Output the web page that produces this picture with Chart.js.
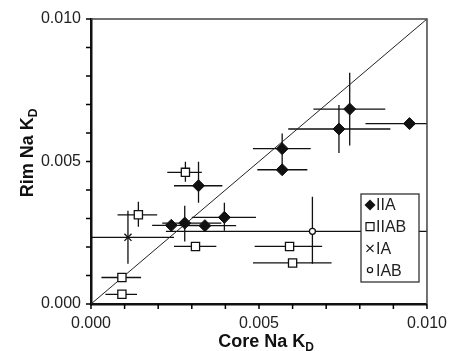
<!doctype html>
<html lang="en">
  <head>
    <meta charset="utf-8">
    <title>Rim vs Core Na KD</title>
    <style>
      * { margin: 0; padding: 0; }
      body { background: #fff; }
      .chartBox { width: 452px; height: 351px; }
    </style>
  </head>
  <body>
    <div class="chartBox">
      <canvas id="myChart"></canvas>
    </div>
    <script src="https://cdn.jsdelivr.net/npm/chart.js/dist/chart.umd.min.js"></script>
    <script>
    // data (core KD on x, rim KD on y, error bar ends)
    const iiaX   = [0.00770, 0.00738, 0.00948, 0.00569, 0.00569, 0.00320, 0.00239, 0.00279, 0.00339, 0.00397];
    const iiaY   = [0.00684, 0.00614, 0.00633, 0.00545, 0.00471, 0.00415, 0.00276, 0.00284, 0.00275, 0.00304];
    const iiaXLo = [0.00662, 0.00587, 0.00817, 0.00482, 0.00495, 0.00247, 0.00182, 0.00212, 0.00285, 0.00300];
    const iiaXHi = [0.00876, 0.00891, 0.01100, 0.00654, 0.00644, 0.00391, 0.00320, 0.00388, 0.00432, 0.00491];
    const iiaYLo = [0.00556, 0.00530, 0.00633, 0.00471, 0.00471, 0.00355, 0.00276, 0.00219, 0.00275, 0.00257];
    const iiaYHi = [0.00811, 0.00698, 0.00633, 0.00598, 0.00471, 0.00499, 0.00276, 0.00345, 0.00275, 0.00355];

    const iiabX   = [0.00281, 0.00141, 0.00311, 0.00092, 0.00092, 0.00591, 0.00600];
    const iiabY   = [0.00462, 0.00313, 0.00202, 0.00093, 0.00034, 0.00202, 0.00144];
    const iiabXLo = [0.00227, 0.00079, 0.00247, 0.00031, 0.00043, 0.00487, 0.00482];
    const iiabXHi = [0.00330, 0.00197, 0.00373, 0.00149, 0.00137, 0.00688, 0.00716];
    const iiabYLo = [0.00429, 0.00271, 0.00202, 0.00093, 0.00034, 0.00202, 0.00144];
    const iiabYHi = [0.00499, 0.00359, 0.00202, 0.00093, 0.00034, 0.00202, 0.00144];

    const iaX   = [0.00110];
    const iaY   = [0.00234];
    const iaXLo = [-0.00020];
    const iaXHi = [0.00247];
    const iaYLo = [0.00141];
    const iaYHi = [0.00327];

    const iabX   = [0.00659];
    const iabY   = [0.00255];
    const iabXLo = [0.00223];
    const iabXHi = [0.01050];
    const iabYLo = [0.00141];
    const iabYHi = [0.00376];

    const oneToOne = [0, 0.010];
    const minorTicks = [0, 0.001, 0.002, 0.003, 0.004, 0.005, 0.006, 0.007, 0.008, 0.009, 0.010];
    const labelTicks = [0, 0.005, 0.010];
    const groupNames = ['IIA', 'IIAB', 'IA', 'IAB'];

    const pts = (xs, ys) => xs.map((x, i) => ({x: x, y: ys[i]}));
    const ink = '#111';
    const fontFam = '"Liberation Sans", Arial, sans-serif';

    const errGroups = [
      [iiaX, iiaY, iiaXLo, iiaXHi, iiaYLo, iiaYHi],
      [iiabX, iiabY, iiabXLo, iiabXHi, iiabYLo, iiabYHi],
      [iaX, iaY, iaXLo, iaXHi, iaYLo, iaYHi],
      [iabX, iabY, iabXLo, iabXHi, iabYLo, iabYHi]
    ];

    // error bars, drawn under the markers
    const errorBars = {
      id: 'errorBars',
      beforeDatasetsDraw(chart) {
        const {ctx, chartArea, scales: {x, y}} = chart;
        ctx.save();
        ctx.beginPath();
        ctx.rect(chartArea.left, chartArea.top, chartArea.width, chartArea.height);
        ctx.clip();
        ctx.strokeStyle = ink;
        ctx.lineWidth = 1.3;
        errGroups.forEach(g => {
          const [xs, ys, xl, xh, yl, yh] = g;
          xs.forEach((v, i) => {
            const px = x.getPixelForValue(v), py = y.getPixelForValue(ys[i]);
            ctx.beginPath();
            ctx.moveTo(x.getPixelForValue(xl[i]), py);
            ctx.lineTo(x.getPixelForValue(xh[i]), py);
            if (yh[i] > yl[i]) {
              ctx.moveTo(px, y.getPixelForValue(yl[i]));
              ctx.lineTo(px, y.getPixelForValue(yh[i]));
            }
            ctx.stroke();
          });
        });
        ctx.restore();
      }
    };

    // frame, outward tick marks, axis titles with subscripts, legend box
    const decorations = {
      id: 'decorations',
      afterDraw(chart) {
        const {ctx, chartArea: a, scales: {x, y}} = chart;
        ctx.save();
        ctx.strokeStyle = '#444';
        ctx.lineWidth = 1.5;
        ctx.beginPath();
        ctx.moveTo(a.left, a.top);
        ctx.lineTo(a.right, a.top);
        ctx.lineTo(a.right, a.bottom);
        ctx.stroke();

        // tick marks at every 0.001, pointing outward
        ctx.strokeStyle = '#000';
        ctx.lineWidth = 1.5;
        ctx.beginPath();
        minorTicks.forEach(v => {
          const px = x.getPixelForValue(v);
          const py = y.getPixelForValue(v);
          ctx.moveTo(px, a.bottom);
          ctx.lineTo(px, a.bottom + 5);
          ctx.moveTo(a.left, py);
          ctx.lineTo(a.left - 5, py);
        });
        ctx.stroke();

        const title = (main, sub) => {
          ctx.font = 'bold 18px ' + fontFam;
          const w1 = ctx.measureText(main).width;
          ctx.font = 'bold 12px ' + fontFam;
          const w2 = ctx.measureText(sub).width;
          const start = -(w1 + w2) / 2;
          ctx.fillStyle = '#111';
          ctx.textBaseline = 'alphabetic';
          ctx.textAlign = 'left';
          ctx.font = 'bold 18px ' + fontFam;
          ctx.fillText(main, start, 0);
          ctx.font = 'bold 12px ' + fontFam;
          ctx.fillText(sub, start + w1, 4);
        };
        ctx.save();
        ctx.translate(266, 347);
        title('Core Na K', 'D');
        ctx.restore();
        ctx.save();
        ctx.translate(33, 153);
        ctx.rotate(-Math.PI / 2);
        title('Rim Na K', 'D');
        ctx.restore();

        // legend
        const lx = 361, ly = 194, lw = 58, lh = 88;
        ctx.fillStyle = '#fff';
        ctx.fillRect(lx, ly, lw, lh);
        ctx.strokeStyle = '#333';
        ctx.lineWidth = 1.3;
        ctx.strokeRect(lx, ly, lw, lh);
        ctx.font = '16px ' + fontFam;
        ctx.textBaseline = 'middle';
        ctx.textAlign = 'left';
        groupNames.forEach((name, i) => {
          const cy = ly + 11 + i * 21.7;
          const mx = lx + 9;
          ctx.fillStyle = ink;
          ctx.strokeStyle = ink;
          ctx.lineWidth = 1.2;
          ctx.beginPath();
          if (i === 0) {
            ctx.moveTo(mx, cy - 5.5); ctx.lineTo(mx + 5.5, cy);
            ctx.lineTo(mx, cy + 5.5); ctx.lineTo(mx - 5.5, cy);
            ctx.closePath(); ctx.fill();
          } else if (i === 1) {
            ctx.fillStyle = '#fff';
            ctx.rect(mx - 4, cy - 4, 8, 8);
            ctx.fill(); ctx.stroke();
          } else if (i === 2) {
            ctx.moveTo(mx - 3.5, cy - 3.5); ctx.lineTo(mx + 3.5, cy + 3.5);
            ctx.moveTo(mx + 3.5, cy - 3.5); ctx.lineTo(mx - 3.5, cy + 3.5);
            ctx.stroke();
          } else {
            ctx.fillStyle = '#fff';
            ctx.arc(mx, cy, 2.6, 0, Math.PI * 2);
            ctx.fill(); ctx.stroke();
          }
          ctx.fillStyle = '#222';
          ctx.fillText(name, lx + 15, cy + 1);
        });
        ctx.restore();
      }
    };

    const tickOpts = {
      stepSize: 0.001,
      autoSkip: false,
      maxRotation: 0,
      minRotation: 0,
      color: '#222',
      padding: 5,
      font: {family: fontFam, size: 16},
      callback: v => labelTicks.some(t => Math.abs(t - v) < 1e-9) ? v.toFixed(3) : ''
    };

    const gridOpts = {drawOnChartArea: false, drawTicks: true, tickLength: 5, tickColor: 'rgba(0,0,0,0)'};

    const config = {
      type: 'scatter',
      data: {
        datasets: [
          {
            type: 'line',
            data: pts(oneToOne, oneToOne),
            borderColor: '#222',
            borderWidth: 1,
            pointRadius: 0,
            fill: false,
            order: 5
          },
          {
            label: groupNames[0],
            data: pts(iiaX, iiaY),
            pointStyle: 'rectRot',
            pointRadius: 6,
            backgroundColor: ink,
            borderColor: ink,
            borderWidth: 1,
            order: 1
          },
          {
            label: groupNames[1],
            data: pts(iiabX, iiabY),
            pointStyle: 'rect',
            pointRadius: 5.8,
            backgroundColor: '#fff',
            borderColor: ink,
            borderWidth: 1.3,
            order: 1
          },
          {
            label: groupNames[2],
            data: pts(iaX, iaY),
            pointStyle: 'crossRot',
            pointRadius: 5,
            borderColor: ink,
            borderWidth: 1.3,
            order: 1
          },
          {
            label: groupNames[3],
            data: pts(iabX, iabY),
            pointStyle: 'circle',
            pointRadius: 3,
            backgroundColor: '#fff',
            borderColor: ink,
            borderWidth: 1.3,
            order: 1
          }
        ]
      },
      options: {
        responsive: true,
        maintainAspectRatio: false,
        animation: false,
        layout: {padding: {left: 0, top: 19, right: 21, bottom: 0}},
        plugins: {
          legend: {display: false},
          tooltip: {enabled: false}
        },
        scales: {
          x: {
            type: 'linear',
            min: 0,
            max: 0.010,
            ticks: tickOpts,
            grid: gridOpts,
            border: {display: true, color: ink, width: 2.5},
            afterFit: s => { s.height = 47; }
          },
          y: {
            type: 'linear',
            min: 0,
            max: 0.010,
            ticks: tickOpts,
            grid: gridOpts,
            border: {display: true, color: ink, width: 2.5},
            afterFit: s => { s.width = 91; }
          }
        }
      },
      plugins: [errorBars, decorations]
    };

    const myChart = new Chart(document.getElementById('myChart'), config);
    </script>
  </body>
</html>
